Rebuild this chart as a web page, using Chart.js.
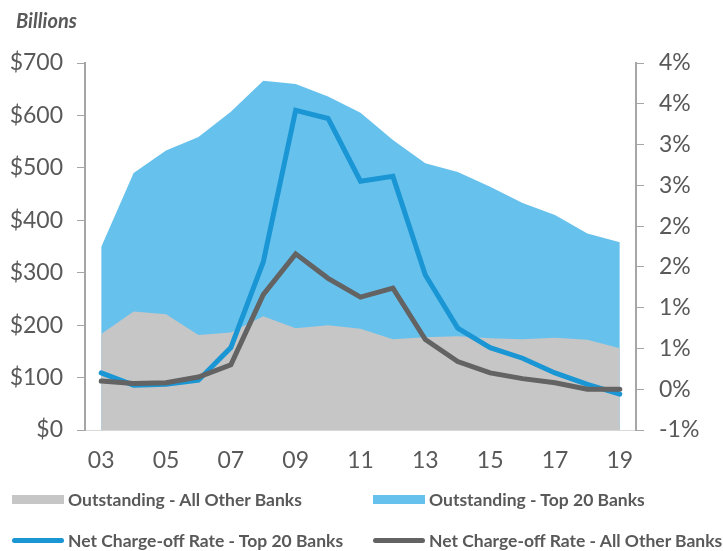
<!DOCTYPE html>
<html>
<head>
<meta charset="utf-8">
<script src="https://cdn.jsdelivr.net/npm/chart.js@4"></script>
<style>
    body { margin: 0; background: #fff; font-family: Lato, sans-serif; }
    .wrap { position: relative; width: 723px; height: 551px; }
    .unit { position: absolute; left: 16px; top: 8px; font: italic bold 20px Lato; color: #595959; }
    .legend-item { position: absolute; display: flex; align-items: center; font: bold 17.5px Lato; color: #595959; white-space: nowrap; }
    .swatch { width: 52px; height: 9px; margin-right: 4px; }
    .swatch.line { height: 5px; border-radius: 3px; }
</style>
</head>
<body>
<div class="wrap">
    <canvas id="chart" width="723" height="551"></canvas>
    <div class="unit">Billions</div>
    <div class="legend-item" style="left:12px; top:489px"><div class="swatch" style="background:#c6c6c6"></div>Outstanding - All Other Banks</div>
    <div class="legend-item" style="left:373px; top:489px"><div class="swatch" style="background:#67c1ed"></div>Outstanding - Top 20 Banks</div>
    <div class="legend-item" style="left:12px; top:530px"><div class="swatch line" style="background:#1a96d4"></div>Net Charge-off Rate - Top 20 Banks</div>
    <div class="legend-item" style="left:373px; top:530px"><div class="swatch line" style="background:#636363"></div>Net Charge-off Rate - All Other Banks</div>
</div>
<script>
// Data
const years = ['03', '04', '05', '06', '07', '08', '09', '10', '11', '12', '13', '14', '15', '16', '17', '18', '19'];
const outstandingOther = [183, 226, 221, 181, 186, 217, 194, 200, 193, 173, 177, 179, 175, 173, 176, 172, 156];
const outstandingTop20 = [166, 264, 312, 378, 421, 449, 466, 436, 412, 380, 332, 313, 289, 260, 234, 203, 202];
const rateTop20 = [0.20, 0.05, 0.06, 0.11, 0.51, 1.56, 3.42, 3.32, 2.55, 2.61, 1.40, 0.75, 0.51, 0.38, 0.20, 0.06, -0.06];
const rateOther = [0.10, 0.07, 0.08, 0.15, 0.30, 1.16, 1.66, 1.36, 1.13, 1.24, 0.61, 0.34, 0.20, 0.13, 0.08, 0.00, 0.00];

// top of the stacked area
const outstandingTotal = outstandingOther.map((v, i) => v + outstandingTop20[i]);

const tickFont = { family: 'Lato', size: 23 };
const tickColor = '#595959';
const axisColor = '#a6a6a6';

new Chart(document.getElementById('chart'), {
    type: 'line',
    data: {
        labels: years,
        datasets: [
            {
                label: 'Outstanding - Top 20 Banks',
                data: outstandingTotal,
                yAxisID: 'y',
                backgroundColor: '#67c1ed',
                borderWidth: 0,
                pointRadius: 0,
                fill: 'origin',
                order: 3
            },
            {
                label: 'Outstanding - All Other Banks',
                data: outstandingOther,
                yAxisID: 'y',
                backgroundColor: '#c6c6c6',
                borderWidth: 0,
                pointRadius: 0,
                fill: 'origin',
                order: 2
            },
            {
                label: 'Net Charge-off Rate - Top 20 Banks',
                data: rateTop20,
                yAxisID: 'y1',
                borderColor: '#1a96d4',
                borderWidth: 5,
                borderCapStyle: 'round',
                pointRadius: 0,
                fill: false,
                order: 1
            },
            {
                label: 'Net Charge-off Rate - All Other Banks',
                data: rateOther,
                yAxisID: 'y1',
                borderColor: '#636363',
                borderWidth: 5,
                borderCapStyle: 'round',
                pointRadius: 0,
                fill: false,
                order: 0
            }
        ]
    },
    options: {
        responsive: false,
        animation: false,
        layout: { padding: { top: 63 } },
        plugins: {
            legend: { display: false },
            tooltip: { enabled: false }
        },
        scales: {
            x: {
                offset: true,
                grid: { display: false },
                border: { color: '#d9d9d9' },
                ticks: {
                    font: tickFont,
                    color: tickColor,
                    autoSkip: false,
                    maxRotation: 0,
                    padding: 9,
                    callback: (v, i) => i % 2 === 0 ? years[i] : ''
                },
                afterFit: (scale) => { scale.height = 121; }
            },
            y: {
                position: 'left',
                min: 0,
                max: 700,
                grid: { drawOnChartArea: false, color: axisColor, tickLength: 8 },
                border: { color: axisColor, width: 2 },
                ticks: {
                    stepSize: 100,
                    font: tickFont,
                    color: tickColor,
                    padding: 14,
                    callback: (v) => '$' + v
                },
                afterFit: (scale) => { scale.width = 85; }
            },
            y1: {
                position: 'right',
                min: -0.5,
                max: 4,
                grid: { drawOnChartArea: false, color: axisColor, tickLength: 8 },
                border: { color: axisColor, width: 2 },
                ticks: {
                    stepSize: 0.5,
                    font: tickFont,
                    color: tickColor,
                    padding: 15,
                    // labels use a 0% format, so half steps round away from zero
                    callback: (v) => Math.sign(v) * Math.round(Math.abs(v)) + '%'
                },
                afterFit: (scale) => { scale.width = 87; }
            }
        }
    }
});
</script>
</body>
</html>
